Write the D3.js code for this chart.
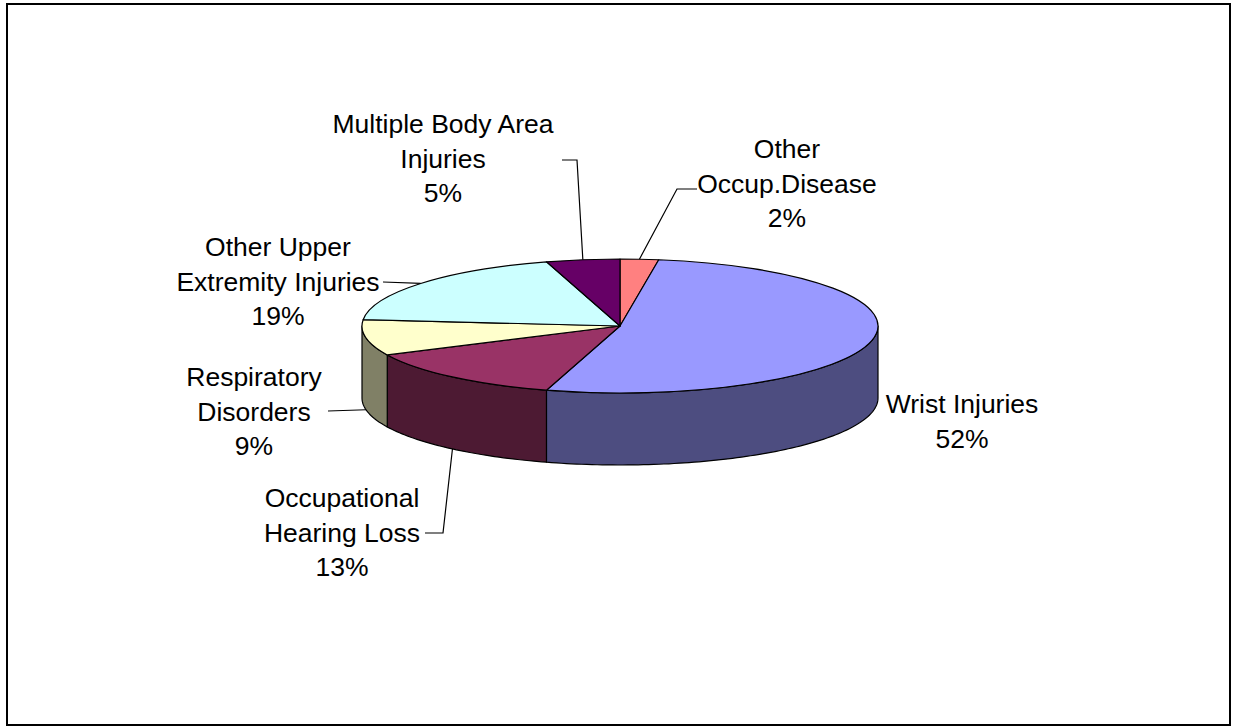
<!DOCTYPE html>
<html>
<head>
<meta charset="utf-8">
<script src="https://cdn.jsdelivr.net/npm/d3@7"></script>
<style>
  body { margin: 0; background: #fff; }
  svg text { font-family: "Liberation Sans", Arial, sans-serif; font-size: 26.5px; fill: #000; }
</style>
</head>
<body>
<script>
(function(){

    // data, clockwise from 12 o'clock
    var categories = ["Other Occup.Disease", "Wrist Injuries", "Occupational Hearing Loss",
                      "Respiratory Disorders", "Other Upper Extremity Injuries", "Multiple Body Area Injuries"];
    var shares = [2.4, 52.2, 13.3, 8.6, 18.9, 4.6];
    var labelLines = [
        ["Other", "Occup.Disease"],
        ["Wrist Injuries"],
        ["Occupational", "Hearing Loss"],
        ["Respiratory", "Disorders"],
        ["Other Upper", "Extremity Injuries"],
        ["Multiple Body Area", "Injuries"]
    ];

    var topColors  = ["#FF8080", "#9999FF", "#993366", "#FFFFCC", "#CCFFFF", "#660066"];
    var sideColors = ["#804040", "#4D4D80", "#4D1A33", "#808066", "#668080", "#330033"];

    // label placement: text centre x, first baseline y, leader start and elbow
    var labelLayout = [
        {x: 787, y: 158, start: [697, 189], elbow: [677, 189]},
        {x: 962, y: 413, start: null, elbow: null},
        {x: 342, y: 507, start: [425, 533], elbow: [443, 533]},
        {x: 254, y: 386, start: [328, 411], elbow: null},
        {x: 278, y: 256, start: [383, 282], elbow: null},
        {x: 443, y: 133, start: [562, 160], elbow: [577, 160]}
    ];

    var width = 1233, height = 726;
    var cx = 620, cy = 326, rx = 258, ry = 67, depth = 72, lineH = 34.5;

    var svg = d3.select("body")
        .append("svg")
        .attr("width", width)
        .attr("height", height);

    // chart frame
    svg.append("rect")
        .attr("x", 7)
        .attr("y", 4)
        .attr("width", 1223)
        .attr("height", 721)
        .attr("fill", "#fff")
        .attr("stroke", "#000")
        .attr("stroke-width", 2);

    var data = categories.map(function(c, i){
        return {name: c, value: shares[i], lines: labelLines[i], top: topColors[i], side: sideColors[i], pos: labelLayout[i]};
    });

    var pie = d3.pie()
        .sort(null)
        .value(function(d){ return d.value; })
        .startAngle(0)
        .endAngle(2 * Math.PI);

    var arcs = pie(data);

    function pt(a, dy){
        return [cx + rx * Math.sin(a), cy - ry * Math.cos(a) + dy];
    }

    var line = d3.line();

    function sidePath(a0, a1){
        var s = Math.max(a0, Math.PI / 2),
            e = Math.min(a1, Math.PI * 1.5);
        if (e <= s) return null;
        var n = Math.max(2, Math.ceil((e - s) / 0.02));
        var pts = [];
        for (var i = 0; i <= n; i++) pts.push(pt(s + (e - s) * i / n, 0));
        for (var j = n; j >= 0; j--) pts.push(pt(s + (e - s) * j / n, depth));
        return line(pts) + "Z";
    }

    // side walls of the front half
    svg.selectAll(".side")
        .data(arcs.filter(function(d){ return sidePath(d.startAngle, d.endAngle); }))
        .enter()
        .append("path")
        .attr("class", "side")
        .attr("d", function(d){ return sidePath(d.startAngle, d.endAngle); })
        .attr("fill", function(d){ return d.data.side; })
        .attr("stroke", "#000")
        .attr("stroke-width", 1.2)
        .attr("stroke-linejoin", "round");

    // top faces: unit-circle arcs squashed into an ellipse
    var arc = d3.arc().innerRadius(0).outerRadius(rx);

    svg.append("g")
        .attr("transform", "translate(" + cx + "," + cy + ") scale(1," + (ry / rx) + ")")
        .selectAll(".slice")
        .data(arcs)
        .enter()
        .append("path")
        .attr("class", "slice")
        .attr("d", arc)
        .attr("fill", function(d){ return d.data.top; })
        .attr("stroke", "#000")
        .attr("stroke-width", 1.2)
        .attr("stroke-linejoin", "round")
        .attr("vector-effect", "non-scaling-stroke");

    // leader lines
    svg.selectAll(".leader")
        .data(arcs.filter(function(d){ return d.data.pos.start; }))
        .enter()
        .append("path")
        .attr("class", "leader")
        .attr("d", function(d){
            var mid = (d.startAngle + d.endAngle) / 2;
            var front = mid > Math.PI / 2 && mid < Math.PI * 1.5;
            var anchor = pt(mid, front ? depth : 0);
            var pts = [d.data.pos.start];
            if (d.data.pos.elbow) pts.push(d.data.pos.elbow);
            pts.push(anchor);
            return line(pts);
        })
        .attr("fill", "none")
        .attr("stroke", "#000")
        .attr("stroke-width", 1.2);

    // labels
    var pct = d3.format(".0f");
    var labels = svg.selectAll(".label")
        .data(arcs)
        .enter()
        .append("text")
        .attr("class", "label")
        .attr("text-anchor", "middle");

    labels.each(function(d){
        var t = d3.select(this);
        var rows = d.data.lines.concat([pct(d.data.value) + "%"]);
        rows.forEach(function(r, i){
            t.append("tspan")
                .attr("x", d.data.pos.x)
                .attr("y", d.data.pos.y + i * lineH)
                .text(r);
        });
    });

})();
</script>
</body>
</html>
